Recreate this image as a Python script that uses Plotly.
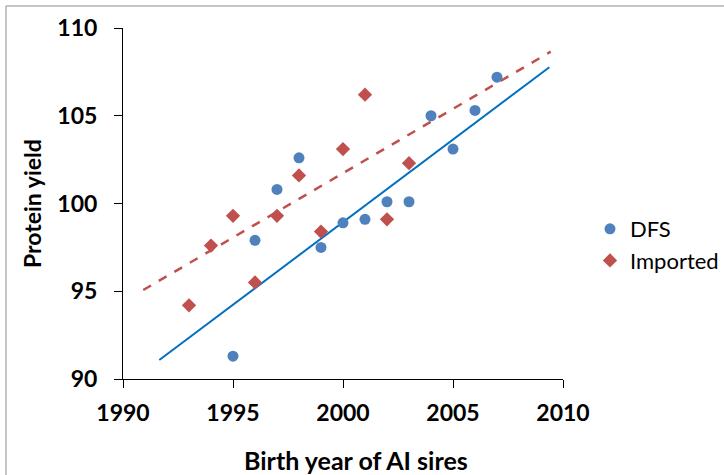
import plotly.graph_objects as go

# values
dfs_year = [1995, 1996, 1997, 1998, 1999, 2000, 2001, 2002, 2003, 2004, 2005, 2006, 2007]
dfs_protein = [91.3, 97.9, 100.8, 102.6, 97.5, 98.9, 99.1, 100.1, 100.1, 105.0, 103.1, 105.3, 107.2]

imp_year = [1993, 1994, 1995, 1996, 1997, 1998, 1999, 2000, 2001, 2002, 2003]
imp_protein = [94.2, 97.6, 99.3, 95.5, 99.3, 101.6, 98.4, 103.1, 106.2, 99.1, 102.3]

# trend line end points
dfs_trend_year = [1991.65, 2009.38]
dfs_trend_protein = [91.08, 107.76]
imp_trend_year = [1990.92, 2009.44]
imp_trend_protein = [95.07, 108.65]

x_ticks = [1990, 1995, 2000, 2005, 2010]
y_ticks = [90, 95, 100, 105, 110]

FONT = "Lato, 'Open Sans', Arial, sans-serif"
W, H = 724, 475
L, R, T, B = 123, 161, 28, 96
PW, PH = W - L - R, H - T - B


def px_x(p):
    return (p - L) / PW


def px_y(p):
    return (H - B - p) / PH


fig = go.Figure()
fig.add_trace(go.Scatter(
    x=dfs_trend_year, y=dfs_trend_protein, mode="lines",
    line={"color": "#0070C0", "width": 2}, showlegend=False, hoverinfo="skip",
))
fig.add_trace(go.Scatter(
    x=imp_trend_year, y=imp_trend_protein, mode="lines",
    line={"color": "#C0504D", "width": 2.5, "dash": "dash"}, showlegend=False, hoverinfo="skip",
))
fig.add_trace(go.Scatter(
    x=dfs_year, y=dfs_protein, mode="markers", name="DFS",
    marker={"symbol": "circle", "size": 11, "color": "#4F81BD"},
))
fig.add_trace(go.Scatter(
    x=imp_year, y=imp_protein, mode="markers", name="Imported",
    marker={"symbol": "diamond", "size": 11, "color": "#C0504D"},
))

axis_common = dict(
    showgrid=False, zeroline=False, showline=True, linecolor="#000000", linewidth=1,
    ticks="outside", ticklen=8, tickcolor="#000000", tickwidth=1,
    tickfont={"family": FONT, "size": 23, "color": "#000000", "weight": "bold"},
)
fig.update_xaxes(range=[1990, 2010], tickvals=x_ticks, ticklabelstandoff=5, **axis_common)
fig.update_yaxes(range=[90, 110], tickvals=y_ticks, ticklabelstandoff=12, **axis_common)

fig.add_annotation(
    text="Birth year of AI sires", xref="paper", yref="paper",
    x=px_x(356), y=px_y(460), showarrow=False, xanchor="center", yanchor="middle",
    font={"family": FONT, "size": 25, "color": "#000000", "weight": "bold"},
)
fig.add_annotation(
    text="Protein yield", xref="paper", yref="paper", textangle=-90,
    x=px_x(32), y=px_y(204), showarrow=False, xanchor="center", yanchor="middle",
    font={"family": FONT, "size": 23, "color": "#000000", "weight": "bold"},
)
fig.add_shape(
    type="rect", xref="paper", yref="paper",
    x0=px_x(6), x1=px_x(740), y0=px_y(490), y1=px_y(6),
    line={"color": "#8C8C8C", "width": 1}, fillcolor="rgba(0,0,0,0)", layer="above",
)

fig.update_layout(
    width=W, height=H,
    margin={"l": L, "r": R, "t": T, "b": B, "autoexpand": False},
    paper_bgcolor="white", plot_bgcolor="white",
    font={"family": FONT, "color": "#000000"},
    legend={
        "x": px_x(590), "y": px_y(208), "xanchor": "left", "yanchor": "top",
        "font": {"family": FONT, "size": 22, "color": "#000000"},
        "bgcolor": "rgba(0,0,0,0)", "itemwidth": 30,
    },
)

fig.write_html(
    "out.html",
    config={"displayModeBar": False},
    post_script="document.body.style.margin = '0';",
)
